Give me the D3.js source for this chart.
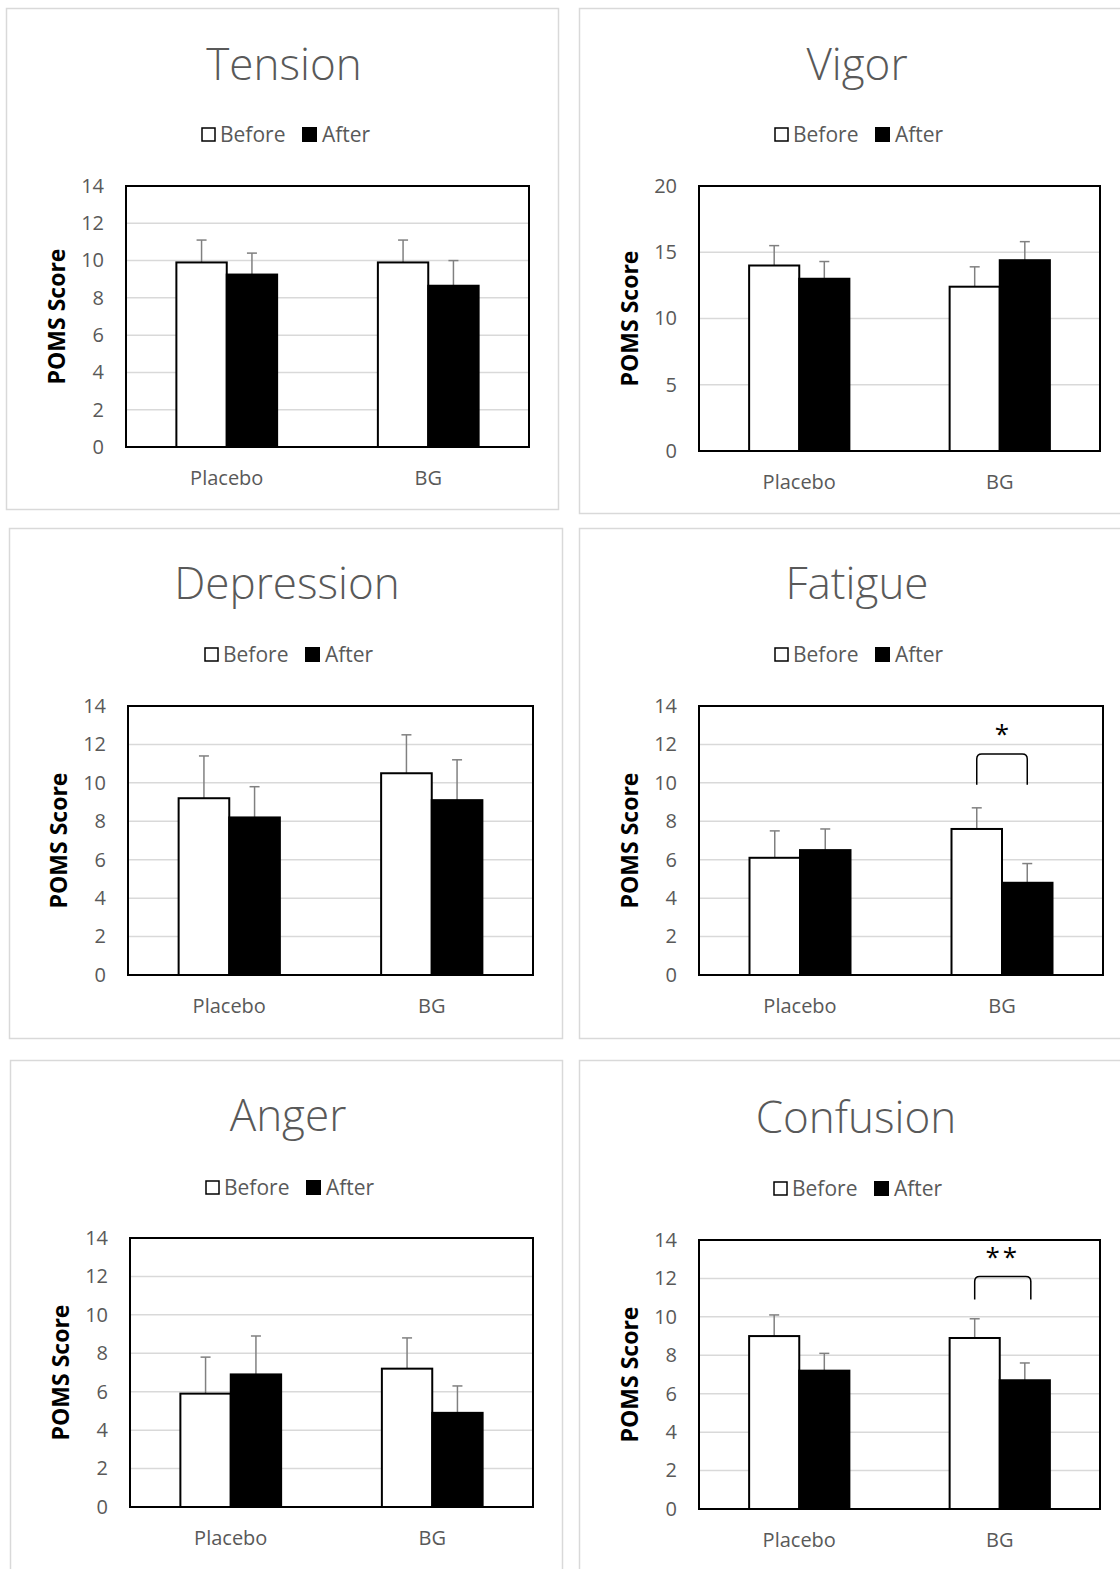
<!DOCTYPE html>
<html>
<head>
<meta charset="utf-8">
<script src="https://cdn.jsdelivr.net/npm/d3@7"></script>
<style>
  body { margin: 0; background: #fff; }
  svg text { font-family: "Open Sans", "DejaVu Sans", sans-serif; }
</style>
</head>
<body>
<div id="chart"></div>
<script>
// data
const categories = ["Placebo", "BG"];
const seriesNames = ["Before", "After"];
const panelTitles = ["Tension", "Vigor", "Depression", "Fatigue", "Anger", "Confusion"];
const yMaxes = [14, 20, 14, 14, 14, 14];
const yTickSteps = [2, 5, 2, 2, 2, 2];
const beforeMeans = [[9.9, 9.9], [14.0, 12.4], [9.2, 10.5], [6.1, 7.6], [5.9, 7.2], [9.0, 8.9]];
const beforeErrs = [[1.2, 1.2], [1.5, 1.5], [2.2, 2.0], [1.4, 1.1], [1.9, 1.6], [1.1, 1.0]];
const afterMeans = [[9.25, 8.65], [13.0, 14.4], [8.2, 9.1], [6.5, 4.8], [6.9, 4.9], [7.2, 6.7]];
const afterErrs = [[1.15, 1.35], [1.3, 1.4], [1.6, 2.1], [1.1, 1.0], [2.0, 1.4], [0.9, 0.9]];
// significance brackets (BG group only)
const sigLabels = ["", "", "", "*", "", "**"];
const sigLow = [0, 0, 0, 9.9, 0, 10.9];
const sigHigh = [0, 0, 0, 11.5, 0, 12.1];

// layout of each panel: outer box, plot area, title/legend positions
const layouts = [
    { box: [6, 8, 552, 501], plot: [126, 186, 529, 447], cx: 284, titleY: 80, legendY: 134 },
    { box: [579, 8, 545, 505], plot: [699, 186, 1100, 451], cx: 857, titleY: 80, legendY: 134 },
    { box: [9, 528, 553, 510], plot: [128, 706, 533, 975], cx: 287, titleY: 599, legendY: 654 },
    { box: [579, 528, 545, 510], plot: [699, 706, 1103, 975], cx: 857, titleY: 599, legendY: 654 },
    { box: [10, 1060, 552, 520], plot: [130, 1238, 533, 1507], cx: 288, titleY: 1131, legendY: 1187 },
    { box: [579, 1060, 545, 520], plot: [699, 1240, 1100, 1509], cx: 856, titleY: 1133, legendY: 1188 }
];

const textGray = "#595959";
const gridGray = "#d9d9d9";
const errGray = "#808080";

const svg = d3.select("#chart")
    .append("svg")
    .attr("width", 1120)
    .attr("height", 1569);

function drawPanel(i) {
    const L = layouts[i];
    const [left, top, right, bottom] = L.plot;
    const g = svg.append("g");

    // 外框
    g.append("rect")
        .attr("x", L.box[0] + 0.5)
        .attr("y", L.box[1] + 0.5)
        .attr("width", L.box[2])
        .attr("height", L.box[3])
        .attr("fill", "#fff")
        .attr("stroke", gridGray)
        .attr("stroke-width", 1.5);

    // 标题
    g.append("text")
        .attr("x", L.cx)
        .attr("y", L.titleY)
        .attr("text-anchor", "middle")
        .attr("font-size", "44px")
        .attr("font-weight", 300)
        .attr("fill", textGray)
        .text(panelTitles[i]);

    // 图例
    const legend = g.append("g")
        .attr("transform", `translate(${L.cx - 83},${L.legendY})`);
    legend.append("rect")
        .attr("x", 1).attr("y", -6).attr("width", 13).attr("height", 13)
        .attr("fill", "#fff").attr("stroke", "#000").attr("stroke-width", 1.5);
    legend.append("text")
        .attr("x", 19).attr("y", 7.5)
        .attr("font-size", "21px").attr("fill", textGray)
        .text(seriesNames[0]);
    legend.append("rect")
        .attr("x", 101).attr("y", -7).attr("width", 15).attr("height", 15)
        .attr("fill", "#000");
    legend.append("text")
        .attr("x", 121).attr("y", 7.5)
        .attr("font-size", "21px").attr("fill", textGray)
        .text(seriesNames[1]);

    const x = d3.scaleBand()
        .domain(categories)
        .range([left, right])
        .paddingInner(0.5)
        .paddingOuter(0.25);
    const xSub = d3.scaleBand()
        .domain(seriesNames)
        .range([0, x.bandwidth()]);
    const y = d3.scaleLinear()
        .domain([0, yMaxes[i]])
        .range([bottom, top]);
    const ticks = d3.range(0, yMaxes[i] + 0.001, yTickSteps[i]);

    // 网格线
    g.append("g")
        .selectAll("line")
        .data(ticks.slice(1, -1))
        .join("line")
        .attr("x1", left).attr("x2", right)
        .attr("y1", d => y(d)).attr("y2", d => y(d))
        .attr("stroke", gridGray)
        .attr("stroke-width", 1.5);

    // Y 轴刻度
    const yAxis = g.append("g")
        .attr("transform", `translate(${left},0)`)
        .call(d3.axisLeft(y).tickValues(ticks).tickSize(0).tickPadding(22).tickFormat(d3.format("d")));
    yAxis.select(".domain").remove();
    yAxis.selectAll("text")
        .attr("font-size", "20px")
        .attr("fill", textGray)
        .attr("font-family", "\"Open Sans\", sans-serif");

    // X 轴标签
    const xAxis = g.append("g")
        .attr("transform", `translate(0,${bottom})`)
        .call(d3.axisBottom(x).tickSize(0).tickPadding(24));
    xAxis.select(".domain").remove();
    xAxis.selectAll("text")
        .attr("font-size", "20px")
        .attr("fill", textGray)
        .attr("font-family", "\"Open Sans\", sans-serif");

    // Y 轴标题
    g.append("text")
        .attr("transform", `translate(${left - 61},${(top + bottom) / 2}) rotate(-90)`)
        .attr("text-anchor", "middle")
        .attr("font-size", "23px")
        .attr("font-weight", "bold")
        .attr("fill", "#000")
        .text("POMS Score");

    const rows = categories.map((c, k) => [
        { cat: c, s: seriesNames[0], v: beforeMeans[i][k], e: beforeErrs[i][k] },
        { cat: c, s: seriesNames[1], v: afterMeans[i][k], e: afterErrs[i][k] }
    ]).flat();

    // 误差线
    const errG = g.append("g")
        .attr("stroke", errGray)
        .attr("stroke-width", 1.5);
    rows.forEach(d => {
        const cx = x(d.cat) + xSub(d.s) + xSub.bandwidth() / 2;
        errG.append("line")
            .attr("x1", cx).attr("x2", cx)
            .attr("y1", y(d.v)).attr("y2", y(d.v + d.e));
        errG.append("line")
            .attr("x1", cx - 5).attr("x2", cx + 5)
            .attr("y1", y(d.v + d.e)).attr("y2", y(d.v + d.e));
    });

    // 柱子
    g.append("g")
        .selectAll("rect")
        .data(rows)
        .join("rect")
        .attr("x", d => x(d.cat) + xSub(d.s))
        .attr("y", d => y(d.v))
        .attr("width", xSub.bandwidth())
        .attr("height", d => bottom - y(d.v))
        .attr("fill", d => d.s === "Before" ? "#fff" : "#000")
        .attr("stroke", "#000")
        .attr("stroke-width", 2);

    // 绘图区边框
    g.append("rect")
        .attr("x", left).attr("y", top)
        .attr("width", right - left).attr("height", bottom - top)
        .attr("fill", "none")
        .attr("stroke", "#000")
        .attr("stroke-width", 2);

    // 显著性标记
    if (sigLabels[i]) {
        const xa = x("BG") + xSub("Before") + xSub.bandwidth() / 2;
        const xb = x("BG") + xSub("After") + xSub.bandwidth() / 2 + (sigLabels[i].length - 1) * 6;
        const yl = y(sigLow[i]);
        const yh = y(sigHigh[i]);
        const r = 5;
        g.append("path")
            .attr("d", `M${xa},${yl} V${yh + r} Q${xa},${yh} ${xa + r},${yh} H${xb - r} Q${xb},${yh} ${xb},${yh + r} V${yl}`)
            .attr("fill", "none")
            .attr("stroke", "#000")
            .attr("stroke-width", 1.5);
        g.append("text")
            .attr("x", (xa + xb) / 2)
            .attr("y", yh - 11)
            .attr("text-anchor", "middle")
            .attr("font-size", "26px")
            .attr("letter-spacing", sigLabels[i].length > 1 ? "3px" : "0px")
            .attr("fill", "#000")
            .text(sigLabels[i]);
    }
}

panelTitles.forEach((t, i) => drawPanel(i));
</script>
</body>
</html>
